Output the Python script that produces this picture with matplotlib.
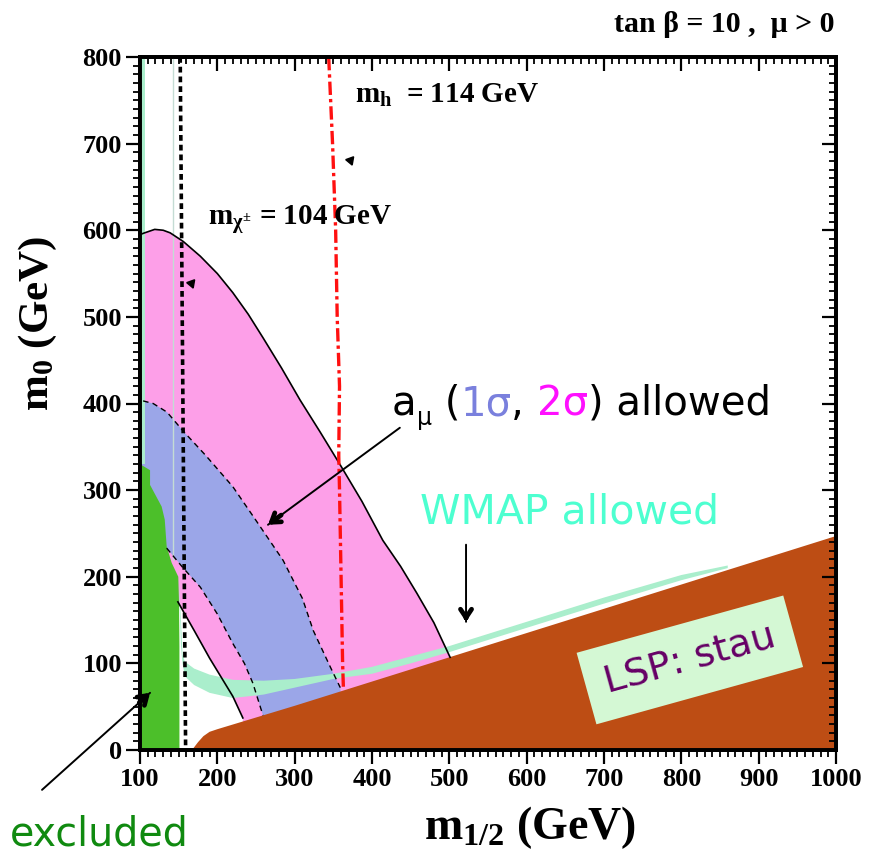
import matplotlib
matplotlib.use('Agg')
import matplotlib.pyplot as plt

plt.rcParams['mathtext.fontset'] = 'custom'
plt.rcParams['mathtext.rm'] = 'Liberation Serif:bold'
plt.rcParams['mathtext.it'] = 'Liberation Serif:bold'
plt.rcParams['mathtext.bf'] = 'Liberation Serif:bold'
SERIF = ['Liberation Serif', 'DejaVu Serif']
SANS = ['DejaVu Sans']

# ---------------- data (m_1/2, m_0 in GeV) ----------------
# excluded (green) region boundary
green_x = [100, 100, 113, 113, 128, 132, 134.5, 141, 149.5, 150.4, 151, 151]
green_y = [0, 330, 323, 306, 281, 266, 235, 216, 200, 173, 120, 0]

# LSP = stau (brown) region upper edge
stau_x = [165, 169, 175, 182, 190, 200, 300, 400, 500, 600, 700, 800, 900, 1000, 1000]
stau_y = [0, 2, 9, 16, 21, 24, 51, 79, 107, 135, 163, 191, 219, 247, 0]

# a_mu 2 sigma (pink) outer boundary
pink_out_x = [100, 106, 119, 130, 139, 156, 178, 200, 220, 240, 259, 283, 307, 333, 359, 387, 414, 437, 458, 480, 501]
pink_out_y = [595, 597, 601, 600, 597, 587, 570, 550, 528, 503, 476, 441, 404, 367, 329, 287, 242, 212, 181, 147, 107]
# a_mu 2 sigma inner (lower-left) boundary
pink_in_x = [149, 170, 190, 205, 220, 233]
pink_in_y = [171, 138, 106, 84, 62, 37]

# a_mu 1 sigma (blue) outer boundary
blue_out_x = [100, 104, 117, 135, 156, 185, 220, 250, 285, 310, 324, 346, 359]
blue_out_y = [402, 403, 400, 390, 368, 340, 304, 265, 219, 175, 138, 96, 72]
# a_mu 1 sigma inner boundary
blue_in_x = [134.5, 155, 178, 200, 220, 235, 246, 259]
blue_in_y = [233, 211, 188, 157, 123, 100, 77, 40]

# WMAP allowed band (upper and lower edges)
wmap_x = [150, 153, 155, 158, 170, 190, 220, 260, 300, 350, 400, 450, 500, 600, 700, 800, 860]
wmap_hi = [200, 150, 110, 102, 94, 87, 81, 80, 82, 88, 96, 108, 120, 148, 176, 202, 213]
wmap_lo = [200, 120, 100, 85, 75, 66, 60, 64, 72, 82, 88, 100, 113, 141, 169, 196, 210]
# WMAP narrow strips at small m_1/2
wstrip_x = [101.5, 106]
wstrip_y = [330, 800]
wline_x = [143, 143]
wline_y = [219, 800]

# chargino mass limit (m_chi+- = 104 GeV)
chi_x = [152, 159]
chi_y = [800, 0]

# Higgs mass limit (m_h = 114 GeV)
higgs_x = [344, 349, 353, 355, 358, 357, 358, 360, 362, 363]
higgs_y = [800, 700, 600, 500, 420, 340, 300, 200, 100, 72]

# ---------------- figure ----------------
W, H = 881, 860
fig = plt.figure(figsize=(W / 100, H / 100), dpi=100)
ax = fig.add_axes([140 / W, 110 / H, 696 / W, 693 / H])
ax.set_xlim(100, 1000)
ax.set_ylim(0, 800)

PINK = '#fd9fe8'
BLUE = '#9ba6e8'
GREEN = '#4cbf2a'
BROWN = '#bd4d14'
WMAPC = '#aaeecc'

# pink 2 sigma region
px = pink_out_x + [515, 233] + pink_in_x[::-1] + [100]
py = pink_out_y + [85, 20] + pink_in_y[::-1] + [171]
ax.fill(px, py, color=PINK, lw=0, zorder=1)

# blue 1 sigma region
bx = blue_out_x + [363, 259] + blue_in_x[::-1] + [100]
by = blue_out_y + [30, 30] + blue_in_y[::-1] + [233]
ax.fill(bx, by, color=BLUE, lw=0, zorder=2)

# WMAP band
ax.fill(wmap_x + wmap_x[::-1], wmap_hi + wmap_lo[::-1], color=WMAPC, lw=0, zorder=3)
ax.fill([wstrip_x[0], wstrip_x[1], wstrip_x[1], wstrip_x[0]],
        [wstrip_y[0], wstrip_y[0], wstrip_y[1], wstrip_y[1]], color=WMAPC, lw=0, zorder=3)
ax.plot(wline_x, wline_y, color='#c4dcd4', lw=1, zorder=3)

# green excluded
ax.fill(green_x, green_y, color=GREEN, lw=0, zorder=4)

# brown stau LSP
ax.fill(stau_x, stau_y, color=BROWN, lw=0, zorder=5)

# boundaries
ax.plot(pink_out_x, pink_out_y, color='k', lw=1.2, zorder=6)
ax.plot(pink_in_x, pink_in_y, color='k', lw=1.2, zorder=6)
ax.plot(blue_out_x[1:], blue_out_y[1:], color='k', lw=1.0, ls=(0, (4, 3)), zorder=6)
ax.plot(blue_in_x, blue_in_y, color='k', lw=1.0, ls=(0, (4, 3)), zorder=6)

# chargino & higgs lines
ax.plot(chi_x, chi_y, color='k', lw=2.6, ls=(0, (1.6, 1.1)), zorder=7)
ax.plot(higgs_x, higgs_y, color='#ff1010', lw=2.4, ls=(0, (4, 1.2, 1, 1.2)), zorder=7)

# small arrowheads indicating allowed sides
ax.plot([372], [681], marker=(3, 0, -40), color='k', ms=7, zorder=8)
ax.plot([166], [539], marker=(3, 0, -40), color='k', ms=7, zorder=8)

# ---------------- axes styling ----------------
for s in ax.spines.values():
    s.set_linewidth(2.6)
ax.set_xticks(range(100, 1001, 100))
ax.set_yticks(range(0, 801, 100))
ax.set_xticks(range(100, 1001, 10), minor=True)
ax.set_yticks(range(0, 801, 10), minor=True)
ax.tick_params(which='major', bottom=True, left=True, top=False, right=False,
               direction='out', length=10, width=1.6, labelsize=19, pad=3)
ax.tick_params(which='minor', bottom=True, left=True, top=False, right=False,
               direction='out', length=5, width=1.3)
for lab in ax.get_xticklabels() + ax.get_yticklabels():
    lab.set_family(SERIF)
    lab.set_fontweight('bold')

# inward ticks on top and right via twin axes
axt = ax.twiny()
axt.set_xlim(100, 1000)
axt.set_xticks(range(100, 1001, 100))
axt.set_xticks(range(100, 1001, 10), minor=True)
axt.tick_params(which='major', direction='in', length=10, width=1.6, labeltop=False)
axt.tick_params(which='minor', direction='in', length=5, width=1.3)
axr = ax.twinx()
axr.set_ylim(0, 800)
axr.set_yticks(range(0, 801, 100))
axr.set_yticks(range(0, 801, 10), minor=True)
axr.tick_params(which='major', direction='in', length=10, width=1.6, labelright=False)
axr.tick_params(which='minor', direction='in', length=5, width=1.3)
for a in (axt, axr):
    for s in a.spines.values():
        s.set_linewidth(2.6)

# ---------------- labels ----------------
fig.text(38 / W, 1 - 323 / H, r'm$_{0}$ (GeV)', rotation=90, ha='center', va='center',
         fontsize=31, family=SERIF, fontweight='bold')
fig.text(530 / W, 1 - 828 / H, r'm$_{1/2}$ (GeV)', ha='center', va='center',
         fontsize=33, family=SERIF, fontweight='bold')
fig.text(835 / W, 1 - 32 / H, 'tan β = 10 ,  μ > 0', ha='right', va='baseline',
         fontsize=21.5, family=SERIF, fontweight='bold')

ax.text(378, 747, r'm$_{\mathbf{h}}$  = 114 GeV', ha='left', va='baseline',
        fontsize=21, family=SERIF, fontweight='bold', zorder=9)
ax.text(188, 606, r'm$_{\chi^{\pm}}$ = 104 GeV', ha='left', va='baseline',
        fontsize=21, family=SERIF, fontweight='bold', zorder=9)

# a_mu text with coloured pieces
renderer = fig.canvas.get_renderer()
x0, y0 = 392, H - 415  # pixels from bottom-left
FS = 29
pieces = [('a', 'k', FS, 0), ('μ', 'k', 17, -10), (' (', 'k', FS, 0), ('1σ', '#7a80dd', FS, 0),
          (', ', 'k', FS, 0), ('2σ', '#ff10ff', FS, 0), (') allowed', 'k', FS, 0)]
cx = x0
for s, c, fs, dy in pieces:
    t = fig.text(cx / W, (y0 + dy) / H, s, color=c, fontsize=fs, family=SANS,
                 ha='left', va='baseline', zorder=9)
    bb = t.get_window_extent(renderer=renderer)
    cx = bb.x1

fig.text(420 / W, 1 - 523 / H, 'WMAP allowed', color='#4dffd0', fontsize=29.5, family=SANS,
         ha='left', va='baseline')
fig.text(10 / W, 1 - 845 / H, 'excluded', color='#108a10', fontsize=28.5, family=SANS,
         ha='left', va='baseline')

ax.text(811, 104, 'LSP: stau', color='#660066', fontsize=27.5,
        family=SANS, rotation=15.5, rotation_mode='anchor', ha='center', va='center',
        zorder=9, bbox=dict(boxstyle='square,pad=0.5', fc='#d4f8d4', ec='none'))


# arrows
def arrow(tail, head):
    ax.annotate('', xy=head, xytext=tail, annotation_clip=False, zorder=9,
                arrowprops=dict(arrowstyle='-', lw=1.4, color='k', shrinkA=0, shrinkB=0))
    fx = tail[0] + (head[0] - tail[0]) * 0.9
    fy = tail[1] + (head[1] - tail[1]) * 0.9
    ax.annotate('', xy=head, xytext=(fx, fy), annotation_clip=False, zorder=9,
                arrowprops=dict(arrowstyle='->,head_length=0.6,head_width=0.4', lw=3.4,
                                color='k', shrinkA=0, shrinkB=0))


arrow((436, 372), (265.5, 260))
arrow((521.6, 237), (521.6, 148))
arrow((-26.7, -46), (113, 66))

fig.savefig('out.png', dpi=100)
